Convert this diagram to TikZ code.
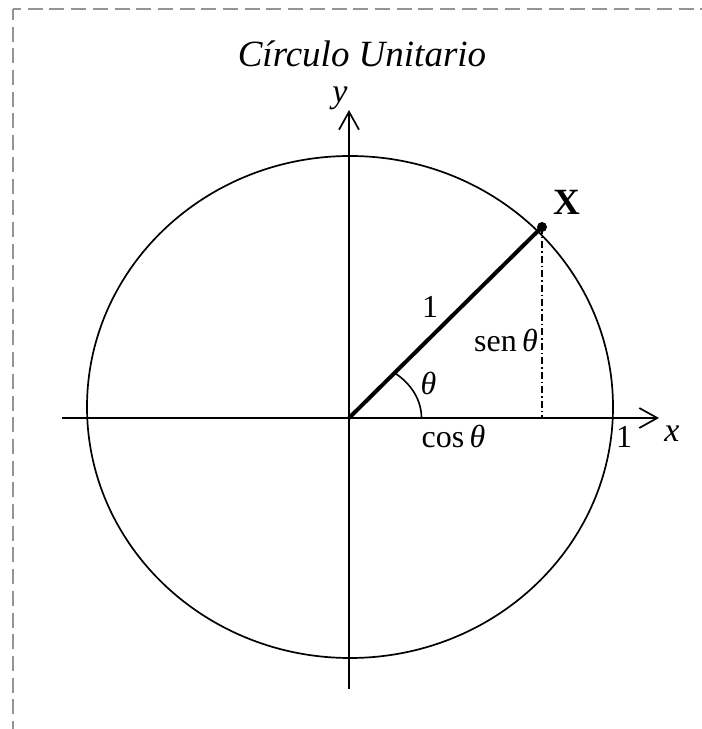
\documentclass[tikz,border=0pt]{standalone}
\usepackage{fontspec}
\setmainfont{Liberation Serif}
\usetikzlibrary{arrows.meta}
\begin{document}
\begin{tikzpicture}[x=1pt,y=1pt,
  frame/.style={draw=black!42, line width=2pt, dash pattern=on 15pt off 6.7pt},
  axis/.style={line width=1.7pt, -{Straight Barb[length=18pt,width=20pt,line width=1.7pt]}},
  curve/.style={line width=1.7pt},
  radius/.style={line width=4pt},
  dashdot/.style={line width=1.5pt, dash pattern=on 7pt off 3pt on 1.5pt off 3pt},
  lbl/.style={anchor=base, inner sep=0pt, font=\fontsize{32}{38}\selectfont},
]
\useasboundingbox (0,0) rectangle (702,729);
% frame
\coordinate (c) at (13,719.5);
\coordinate (cb) at (13,0);
\coordinate (cr) at (702,719.5);
\draw[frame, dash phase=4.5pt] (c) -- (cb);
\draw[frame, dash phase=7pt] (c) -- (cr);
% coordinates
\coordinate (O) at (349,311);
\coordinate (ybot) at (349,40);
\coordinate (ytop) at (349,619);
\coordinate (xl) at (62,311);
\coordinate (xr) at (659,311);
\coordinate (E) at (350,322);
\coordinate (P) at (542,502);
\coordinate (F) at (542,311);
\coordinate (A0) at (421.5,311);
% ellipse
\draw[curve] (E) ellipse [x radius=263, y radius=251];
% axes
\draw[axis] (ybot) -- (ytop);
\draw[axis] (xl) -- (xr);
% radius line and projection
\draw[dashdot] (P) -- (F);
\draw[radius] (O) -- (P);
\fill (P) circle (5pt);
% angle arc
\draw[line width=1.6pt] (A0) arc[start angle=0, end angle=51, x radius=72.5, y radius=58];
% labels
\node[anchor=base, inner sep=0pt, font=\fontsize{37}{42}\selectfont\itshape] (title) at (362,662) {Círculo Unitario};
\node[lbl, font=\fontsize{34}{40}\selectfont\itshape] (ylab) at (340,626) {y};
\node[lbl, font=\fontsize{34}{40}\selectfont\itshape] (xlab) at (672,287) {x};
\node[lbl] (one1) at (624,281) {1};
\node[lbl] (cos) at (453.5,281) {cos\,\textit{θ}};
\node[lbl] (one2) at (430,411) {1};
\node[lbl] (sen) at (506,377) {sen\,\textit{θ}};
\node[lbl] (th) at (428.5,334) {\textit{θ}};
\node[anchor=base, inner sep=0pt, font=\fontsize{37}{42}\selectfont\bfseries] (X) at (567,514) {X};
\end{tikzpicture}
\end{document}
